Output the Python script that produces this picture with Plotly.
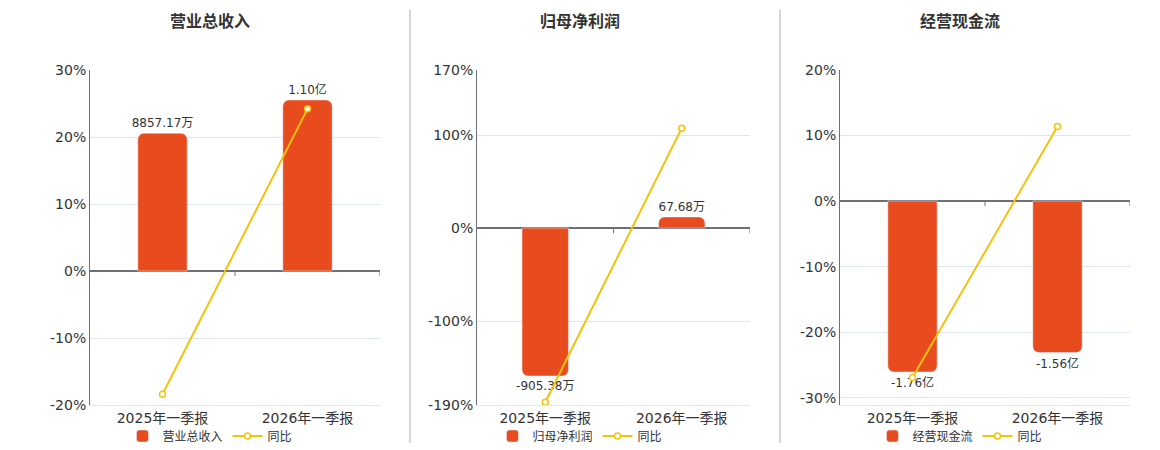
import plotly.graph_objects as go
from plotly.subplots import make_subplots

periods = ['2025年一季报', '2026年一季报']

titles = ['营业总收入', '归母净利润', '经营现金流']

# 金额 (柱)
revenue = [8857.17, 11000.0]      # 万
revenue_text = ['8857.17万', '1.10亿']
profit = [-905.38, 67.68]         # 万
profit_text = ['-905.38万', '67.68万']
cashflow = [-1.76, -1.56]         # 亿
cashflow_text = ['-1.76亿', '-1.56亿']

# 同比 (%)
revenue_yoy = [-18.4, 24.2]
profit_yoy = [-187.0, 107.5]
cashflow_yoy = [-26.9, 11.4]

# 左轴刻度
revenue_ticks = [-20, -10, 0, 10, 20, 30]
profit_ticks = [-190, -100, 0, 100, 170]
cashflow_ticks = [-30, -20, -10, 0, 10, 20]

bar_color = '#E84C1E'
line_color = '#F4C20D'
axis_color = '#6E7079'
font_family = 'DejaVu Sans, Noto Sans CJK SC, sans-serif'

fig = make_subplots(rows=1, cols=3, specs=[[{'secondary_y': True}] * 3])

panels = [
    (revenue, revenue_text, revenue_yoy, [-20, 30], revenue_ticks, [-8620, 12930]),
    (profit, profit_text, profit_yoy, [-190, 170], profit_ticks, [-1083, 967]),
    (cashflow, cashflow_text, cashflow_yoy, [-31.1, 20], cashflow_ticks, [-2.10, 1.349]),
]

x_domains = [(90 / 1160, 380 / 1160), (477 / 1160, 750 / 1160), (840 / 1160, 1130 / 1160)]
y_domain = (45 / 450, 380 / 450)
centers = [210, 580, 960]

for i, (vals, txt, yoy, yr, yt, y2r) in enumerate(panels):
    col = i + 1
    lg = 'legend' if i == 0 else 'legend%d' % col
    # 柱: 主轴(隐藏)；折线: 次轴(显示在左侧, 画在柱子上方)
    fig.add_trace(go.Bar(x=periods, y=vals, text=txt, name=titles[i],
                         marker_color=bar_color, width=0.34,
                         textposition='outside', cliponaxis=False, constraintext='none',
                         textfont=dict(size=12, color='#333333'),
                         legend=lg),
                  row=1, col=col, secondary_y=False)
    fig.add_trace(go.Scatter(x=periods, y=yoy, name='同比', mode='lines+markers',
                             line=dict(color=line_color, width=2),
                             marker=dict(symbol='circle', size=6, color='white',
                                         line=dict(color=line_color, width=1.5)),
                             cliponaxis=False, legend=lg),
                  row=1, col=col, secondary_y=True)

    xa = 'xaxis' if i == 0 else 'xaxis%d' % col
    ya_bar = 'yaxis' if i == 0 else 'yaxis%d' % (2 * i + 1)
    ya_pct = 'yaxis%d' % (2 * i + 2)
    fig.layout[xa].update(domain=x_domains[i], range=[-0.5, 1.5], showline=True,
                          linecolor='#E0E6F1', ticks='', showgrid=False,
                          tickfont=dict(size=14, color='#333333'))
    fig.layout[ya_bar].update(domain=y_domain, range=y2r, visible=False, showgrid=False,
                              zeroline=False)
    fig.layout[ya_pct].update(domain=y_domain, range=yr, side='left', tickmode='array',
                              tickvals=yt, ticktext=['%d%%' % v for v in yt],
                              showline=True, linecolor=axis_color, linewidth=1,
                              showgrid=True, gridcolor='#E0E6F1', zeroline=True,
                              zerolinecolor=axis_color, zerolinewidth=2,
                              tickfont=dict(size=14, color='#333333'))

    # x 轴在零线上的小刻度 (类目分界处)
    xref = 'x' if i == 0 else 'x%d' % col
    yref = 'y%d' % (2 * i + 2)
    for xb in [0.5, 1.5]:
        fig.add_shape(type='line', xref=xref, yref=yref, x0=xb, x1=xb,
                      ysizemode='pixel', yanchor=0, y0=0, y1=-5,
                      line=dict(color=axis_color, width=1))

    fig.add_annotation(text='<b>%s</b>' % titles[i], x=centers[i] / 1160, y=1 - 22 / 450,
                       xref='paper', yref='paper', xanchor='center', yanchor='middle',
                       showarrow=False, font=dict(size=16, color='#333333'))

    fig.layout[lg] = dict(orientation='h', x=centers[i] / 1160, y=14 / 450,
                          xanchor='center', yanchor='middle',
                          font=dict(size=12, color='#333333'),
                          bgcolor='rgba(0,0,0,0)')

for xp in [410, 780]:
    fig.add_shape(type='line', xref='paper', yref='paper', x0=xp / 1160, x1=xp / 1160,
                  y0=7 / 450, y1=440 / 450, line=dict(color='#AAAAAA', width=1))

fig.update_layout(width=1160, height=450,
                  margin=dict(l=0, r=0, t=0, b=0, autoexpand=False),
                  plot_bgcolor='white', paper_bgcolor='white',
                  font=dict(family=font_family, color='#333333'),
                  barcornerradius=6, showlegend=True)

fig.write_html('out.html', config={'displayModeBar': False},
               post_script="document.body.style.margin='0';")
